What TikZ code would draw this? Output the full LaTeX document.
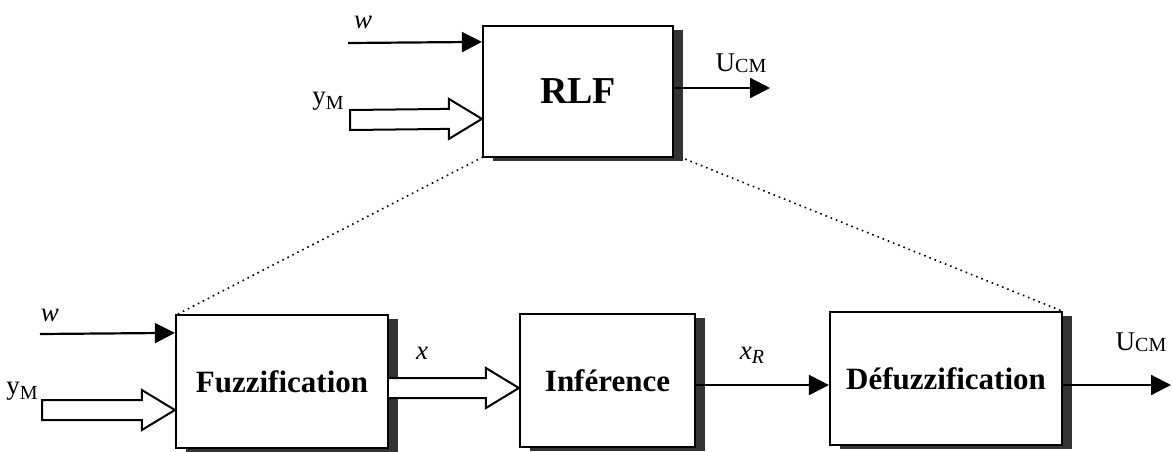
\documentclass[tikz,border=0pt]{standalone}
\usepackage{fontspec}
\setmainfont{Liberation Serif}
\usetikzlibrary{positioning}
\usetikzlibrary{calc}
\usetikzlibrary{shadows}
\usetikzlibrary{arrows.meta}

% small index set beside a letter
\newcommand{\lowidx}[2][0.1ex]{\raisebox{-#1}{\fontsize{10}{11}\selectfont #2}}

% hollow (bus) arrow from #2 to the tip #3, pass "-- cycle" to close its tail
\newcommand{\hollowarrow}[3][]{%
  \filldraw[hollow] ($(#2)+(0,-10)$) -- ($(#3)+(-33,-10)$) -- ($(#3)+(-33,-20)$)
    -- (#3) -- ($(#3)+(-33,20)$) -- ($(#3)+(-33,10)$) -- ($(#2)+(0,10)$) #1;}

\tikzset{
  block/.style={draw, line width=1.1pt, fill=white, inner sep=0pt,
    drop shadow={shadow xshift=5pt, shadow yshift=-2pt, fill=black!80, opacity=1},
    font=\fontsize{15.5}{18}\selectfont\bfseries},
  sig/.style={line width=1.1pt, -{Triangle[length=10pt,width=10pt]}},
  hollow/.style={line width=1pt, fill=white, line join=miter},
  lbl/.style={font=\fontsize{13.5}{16}\selectfont, inner sep=0pt},
  zoomline/.style={dotted, line width=0.8pt}
}

\begin{document}
\begin{tikzpicture}[x=0.5pt, y=-0.5pt]
  \useasboundingbox (0,0) rectangle (1172,451);

  % zoom lines from the controller to its inner blocks
  \coordinate (rlfbl) at (483,157);
  \coordinate (rlfbr) at (680,157);
  \coordinate (fuzztl) at (176,315);
  \coordinate (defuzztr) at (1062,311);
  \draw[zoomline] (rlfbl) -- (fuzztl);
  \draw[zoomline] (rlfbr) -- (defuzztr);

  % blocks
  \node[block, minimum width=95pt, minimum height=65.5pt,
        font=\fontsize{19}{22}\selectfont\bfseries] (rlf) at (578,91.5) {RLF};
  \node[block, minimum width=106pt, minimum height=66.5pt] (fuzz) at (282,381.5) {Fuzzification};
  \node[block, minimum width=87.5pt, minimum height=66.5pt] (inf) at (607.5,380.5) {Inférence};
  \node[block, minimum width=116pt, minimum height=66.5pt] (defuzz) at (946,378.5) {Défuzzification};

  % top: RLF inputs and output
  \coordinate (wtop) at ($(rlf.north west)+(0,17)$);
  \coordinate (ytop) at ($(rlf.north west)+(0,94)$);
  \coordinate (ytopin) at (350,120);
  \coordinate (ucmtop) at (770,88);
  \draw[sig] (348,43) -- (wtop);
  \hollowarrow[-- cycle]{ytopin}{ytop}
  \draw[sig] (rlf.east |- ucmtop) -- (ucmtop);
  \node[lbl] (wlbltop) at (363,22) {\textit{w}};
  \node[lbl] (ylbltop) at (328,101) {y\lowidx[0.45ex]{M}};
  \node[lbl] (ucmlbltop) at (741,63) {U\lowidx{CM}};

  % bottom: Fuzzification -> Inference -> Defuzzification
  \coordinate (wbot) at ($(fuzz.north west)+(0,19)$);
  \coordinate (ybot) at ($(fuzz.west)+(0,28.5)$);
  \coordinate (ybotin) at (42,410);
  \coordinate (xtip) at ($(inf.west)+(0,7.5)$);
  \coordinate (xrtip) at ($(defuzz.west)+(0,6.5)$);
  \coordinate (ucmbot) at (1171,385);
  \draw[sig] (40,334) -- (wbot);
  \hollowarrow[-- cycle]{ybotin}{ybot}
  \hollowarrow{fuzz.east |- xtip}{xtip}
  \draw[sig] (inf.east |- xrtip) -- (xrtip);
  \draw[sig] (defuzz.east |- ucmbot) -- (ucmbot);
  \node[lbl] (wlblbot) at (50,315) {\textit{w}};
  \node[lbl] (ylblbot) at (22,391) {y\lowidx[0.45ex]{M}};
  \node[lbl] (xlbl) at (422,353) {\textit{x}};
  \node[lbl] (xrlbl) at (752,355) {\textit{x}\lowidx[0.35ex]{\textit{R}}};
  \node[lbl] (ucmlblbot) at (1141,342) {U\lowidx{CM}};
\end{tikzpicture}
\end{document}
